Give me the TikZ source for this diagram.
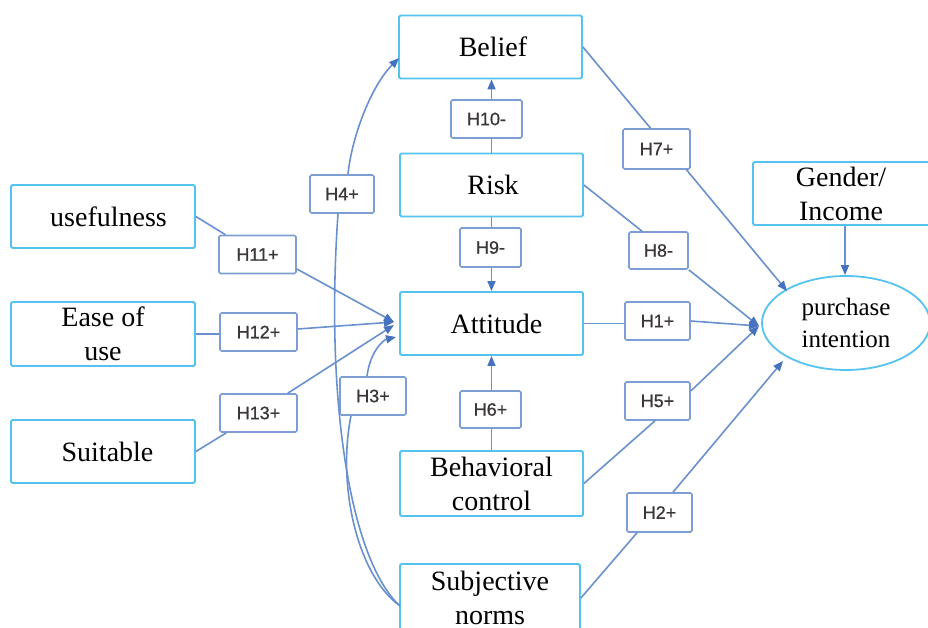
\documentclass[tikz,border=0pt]{standalone}
\usepackage{fontspec}
\setmainfont{Liberation Serif}
\newfontfamily\lblfont[FakeBold=0.9]{Liberation Sans}
\usetikzlibrary{arrows.meta,shapes.geometric}
\definecolor{boxc}{RGB}{85,195,240}
\definecolor{lblc}{RGB}{125,158,212}
\definecolor{linec}{RGB}{105,145,205}
\definecolor{arrc}{RGB}{70,115,190}
\definecolor{lbltext}{RGB}{60,55,55}
\tikzset{
  box/.style={draw=boxc, line width=1.8pt, rectangle, rounded corners=1.5pt,
    minimum width=183pt, minimum height=63pt, inner sep=0pt,
    font=\fontsize{28}{34}\selectfont, align=center},
  lbl/.style={draw=lblc, line width=1.6pt, fill=white, rectangle, rounded corners=1.5pt,
    inner sep=0pt, minimum height=38pt, text=lbltext,
    font=\lblfont\fontsize{18}{20}\selectfont},
  conn/.style={draw=linec, line width=1.6pt},
  arr/.style={conn, -{Triangle[length=10pt,width=8pt,color=arrc]}}
}
\begin{document}
\begin{tikzpicture}[x=1pt,y=-1pt]
\useasboundingbox (0,0) rectangle (928,628);
% main boxes
\node[box] (belief) at (490.5,47) {\hspace*{5pt}Belief};
\node[box] (risk) at (491.5,185) {\hspace*{3pt}Risk};
\node[box] (att) at (491.5,323.5) {\hspace*{10pt}Attitude};
\node[box, minimum height=65pt] (bc) at (491.5,483.5) {Behavioral\\control};
\node[box, minimum width=180pt, minimum height=68pt] (sn) at (490,598) {Subjective\\norms};
\node[box, minimum width=184pt] (use) at (103,216.5) {\hspace*{11pt}usefulness};
\node[box, minimum width=184pt, minimum height=64pt] (ease) at (103,334) {Ease of\\use};
\node[box, minimum width=184pt] (suit) at (103,451.5) {\hspace*{9pt}Suitable};
\node[box, minimum width=184pt] (gi) at (845,193.5) {Gender/\hspace*{8pt}\\Income\hspace*{8pt}};
\node[draw=boxc, line width=1.8pt, ellipse, minimum width=168pt, minimum height=94pt,
  inner sep=0pt, align=center, font=\fontsize{25}{32}\selectfont] (pi) at (846,323) {purchase\\intention};
% label boxes
\node[lbl, minimum width=77pt] (h11) at (257.5,254.5) {H11+};
\node[lbl, minimum width=77pt] (h12) at (258.5,332) {H12+};
\node[lbl, minimum width=77pt] (h13) at (258.5,413) {H13+};
\node[lbl, minimum width=64pt] (h4) at (342,194) {H4+};
\node[lbl, minimum width=66pt] (h3) at (373,396) {H3+};
\node[lbl, minimum width=71pt] (h10) at (486.5,119) {H10-};
\node[lbl, minimum width=61pt, minimum height=39pt] (h9) at (490.5,247.5) {H9-};
\node[lbl, minimum width=61pt, minimum height=37pt] (h6) at (490.5,409.5) {H6+};
\node[lbl, minimum width=67pt, minimum height=40pt] (h7) at (656.5,149) {H7+};
\node[lbl, minimum width=59pt, minimum height=37pt] (h8) at (658.5,250.5) {H8-};
\node[lbl, minimum width=65pt] (h1) at (657.5,321) {H1+};
\node[lbl, minimum width=65pt] (h5) at (657.5,401) {H5+};
\node[lbl, minimum width=65pt, minimum height=39pt] (h2) at (659.5,512.5) {H2+};
% target coordinates
\coordinate (tA) at (394,322);
\coordinate (tA2) at (394,325);
\coordinate (tA3) at (396,337);
\coordinate (tB) at (399,58);
\coordinate (snL) at (400,606);
\coordinate (pA) at (787,291);
\coordinate (pB) at (759,326);
\coordinate (pC) at (783,361);
% left side
\draw[conn] (use.east) -- (h11);
\draw[arr] ([yshift=-14.5pt]h11.east) -- (tA);
\draw[conn] (ease.east) -- (ease.east -| h12.west);
\draw[arr] ([yshift=3pt]h12.east) -- (tA);
\draw[conn] (suit.east) -- (h13);
\draw[arr] ([xshift=-10pt]h13.north east) -- (tA2);
% H3+
\draw[conn] (snL) .. controls (357,575) and (337,485) .. ([xshift=-22pt]h3.south);
\draw[arr] ([xshift=-6pt]h3.north) .. controls (370,352) and (383,340) .. (tA3);
% H4+
\draw[conn] (snL) .. controls (350,560) and (325,400) .. ([xshift=-4pt]h4.south);
\draw[arr] ([xshift=6pt]h4.north) .. controls (352,135) and (372,85) .. (tB);
% center column
\draw[conn] (risk.north) -- (risk.north |- h10.south);
\draw[arr] (risk.north |- h10.north) -- (risk.north |- belief.south);
\draw[conn] (risk.south) -- (risk.south |- h9.north);
\draw[arr] (risk.south |- h9.south) -- (att.north);
\draw[conn] (bc.north) -- (bc.north |- h6.south);
\draw[arr] (bc.north |- h6.north) -- (att.south);
% right side
\draw[conn] (belief.east) -- ([xshift=-6pt]h7.north);
\draw[arr] ([xshift=30pt]h7.south) -- (pA);
\draw[conn] (risk.east) -- ([xshift=-16.5pt]h8.north);
\draw[arr] (h8.south east) -- (pB);
\draw[conn] (att.east) -- (att.east -| h1.west);
\draw[arr] (h1.east) -- (pB);
\draw[conn] (bc.east) -- ([xshift=-2.5pt]h5.south);
\draw[arr] ([yshift=10pt]h5.east) -- (pB);
\draw[conn] (sn.east) -- ([xshift=-22.5pt]h2.south);
\draw[arr] ([xshift=13.5pt]h2.north) -- (pC);
\draw[arr] (gi.south) -- (gi.south |- pi.north);
\end{tikzpicture}
\end{document}
